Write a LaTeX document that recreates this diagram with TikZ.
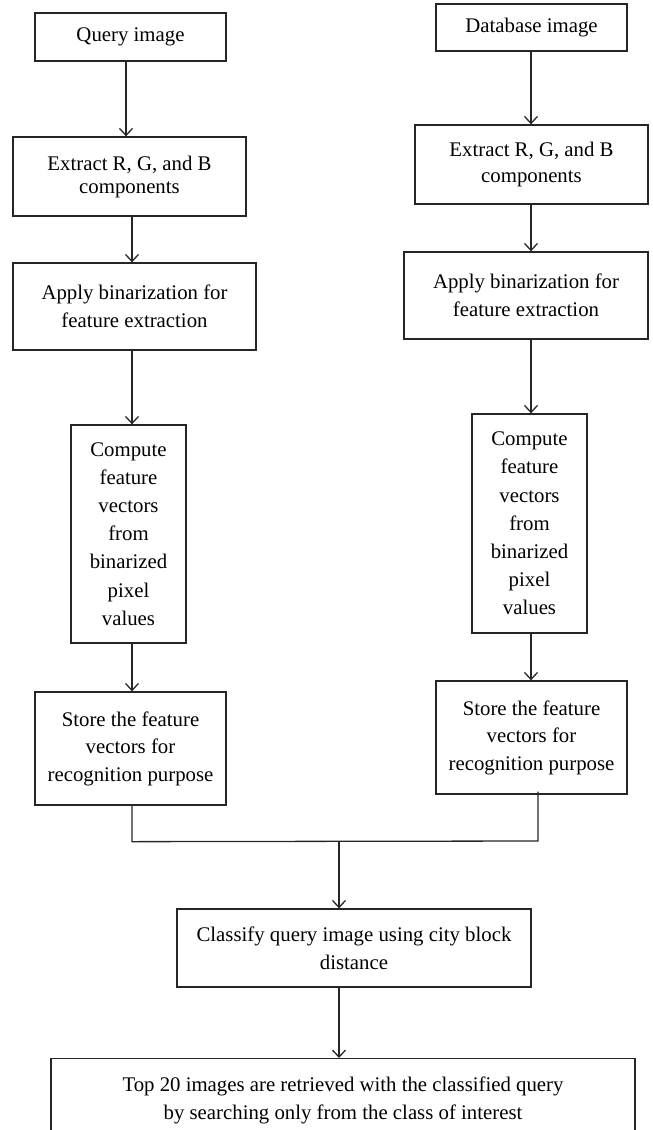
\documentclass[tikz,border=0pt]{standalone}
\usepackage{fontspec}
\setmainfont{Liberation Serif}
\usetikzlibrary{arrows.meta,calc}
\begin{document}
\begin{tikzpicture}[x=1pt,y=-1pt,
  box/.style={draw=black!85,line width=1.3pt,rectangle,align=center,inner sep=0pt,
    font=\fontsize{20.8}{27.5}\selectfont},
  arr/.style={draw=black!85,line width=1.3pt,-{Straight Barb[length=7pt,width=13pt,line width=1.3pt]}},
  ln/.style={draw=black!85,line width=1.3pt}]
\useasboundingbox (0,0) rectangle (653,1130);
% left column
\node[box,minimum width=191pt,minimum height=48pt] (q1) at (130.5,37) {Query image};
\node[box,minimum width=233pt,minimum height=79pt,font=\fontsize{20.8}{23}\selectfont] (e1) at (129.5,176.5) {Extract R, G, and B\\components};
\node[box,minimum width=243pt,minimum height=87pt] (a1) at (134.5,306.5) {Apply binarization for\\feature extraction};
\node[box,minimum width=115pt,minimum height=218pt,font=\fontsize{20.8}{28.2}\selectfont] (c1) at (128.5,534) {Compute\\feature\\vectors\\from\\binarized\\pixel\\values};
\node[box,minimum width=191pt,minimum height=113pt] (s1) at (130.5,748.5) {Store the feature\\vectors for\\recognition purpose};
% right column
\node[box,minimum width=191pt,minimum height=47pt] (q2) at (531.5,27.5) {Database image};
\node[box,minimum width=233pt,minimum height=79pt,font=\fontsize{20.8}{26}\selectfont] (e2) at (531.5,164.5) {Extract R, G, and B\\components};
\node[box,minimum width=244pt,minimum height=87pt] (a2) at (526,295.5) {Apply binarization for\\feature extraction};
\node[box,minimum width=115pt,minimum height=219pt,font=\fontsize{20.8}{28.2}\selectfont] (c2) at (529.5,523.5) {Compute\\feature\\vectors\\from\\binarized\\pixel\\values};
\node[box,minimum width=191pt,minimum height=113pt] (s2) at (531.5,737.5) {Store the feature\\vectors for\\recognition purpose};
% bottom
\node[box,minimum width=354pt,minimum height=78pt,font=\fontsize{20.8}{28}\selectfont] (cl) at (354,948) {Classify query image using city block\\distance};
\node[box,minimum width=584pt,minimum height=84pt,anchor=north,font=\fontsize{20.8}{28}\selectfont] (tp) at (343,1058) {Top 20 images are retrieved with the classified query\\by searching only from the class of interest};
% connectors left
\draw[arr] ([xshift=-4.5pt]q1.south) -- ([xshift=-4.5pt]q1.south |- e1.north);
\draw[arr] ([xshift=2.5pt]e1.south) -- ([xshift=2.5pt]e1.south |- a1.north);
\draw[arr] ([xshift=-2.5pt]a1.south) -- ([xshift=-2.5pt]a1.south |- c1.north);
\draw[arr] ([xshift=3.5pt]c1.south) -- ([xshift=3.5pt]c1.south |- s1.north);
% connectors right
\draw[arr] ([xshift=-0.5pt]q2.south) -- ([xshift=-0.5pt]q2.south |- e2.north);
\draw[arr] ([xshift=-0.5pt]e2.south) -- ([xshift=-0.5pt]e2.south |- a2.north);
\draw[arr] ([xshift=5pt]a2.south) -- ([xshift=5pt]a2.south |- c2.north);
\draw[arr] ([xshift=1.5pt]c2.south) -- ([xshift=1.5pt]c2.south |- s2.north);
% merge
\coordinate (jl) at ($(s1.south)+(1.5pt,36)$);
\coordinate (jr) at (538,841);
\coordinate (jm) at (339,841);
\draw[ln] ([xshift=1.5pt]s1.south) -- (jl) -- (jr) -- ([yshift=3pt]jr |- s2.south);
\draw[arr] (jm) -- (jm |- cl.north);
\draw[arr] (jm |- cl.south) -- (jm |- tp.north);
\end{tikzpicture}
\end{document}
